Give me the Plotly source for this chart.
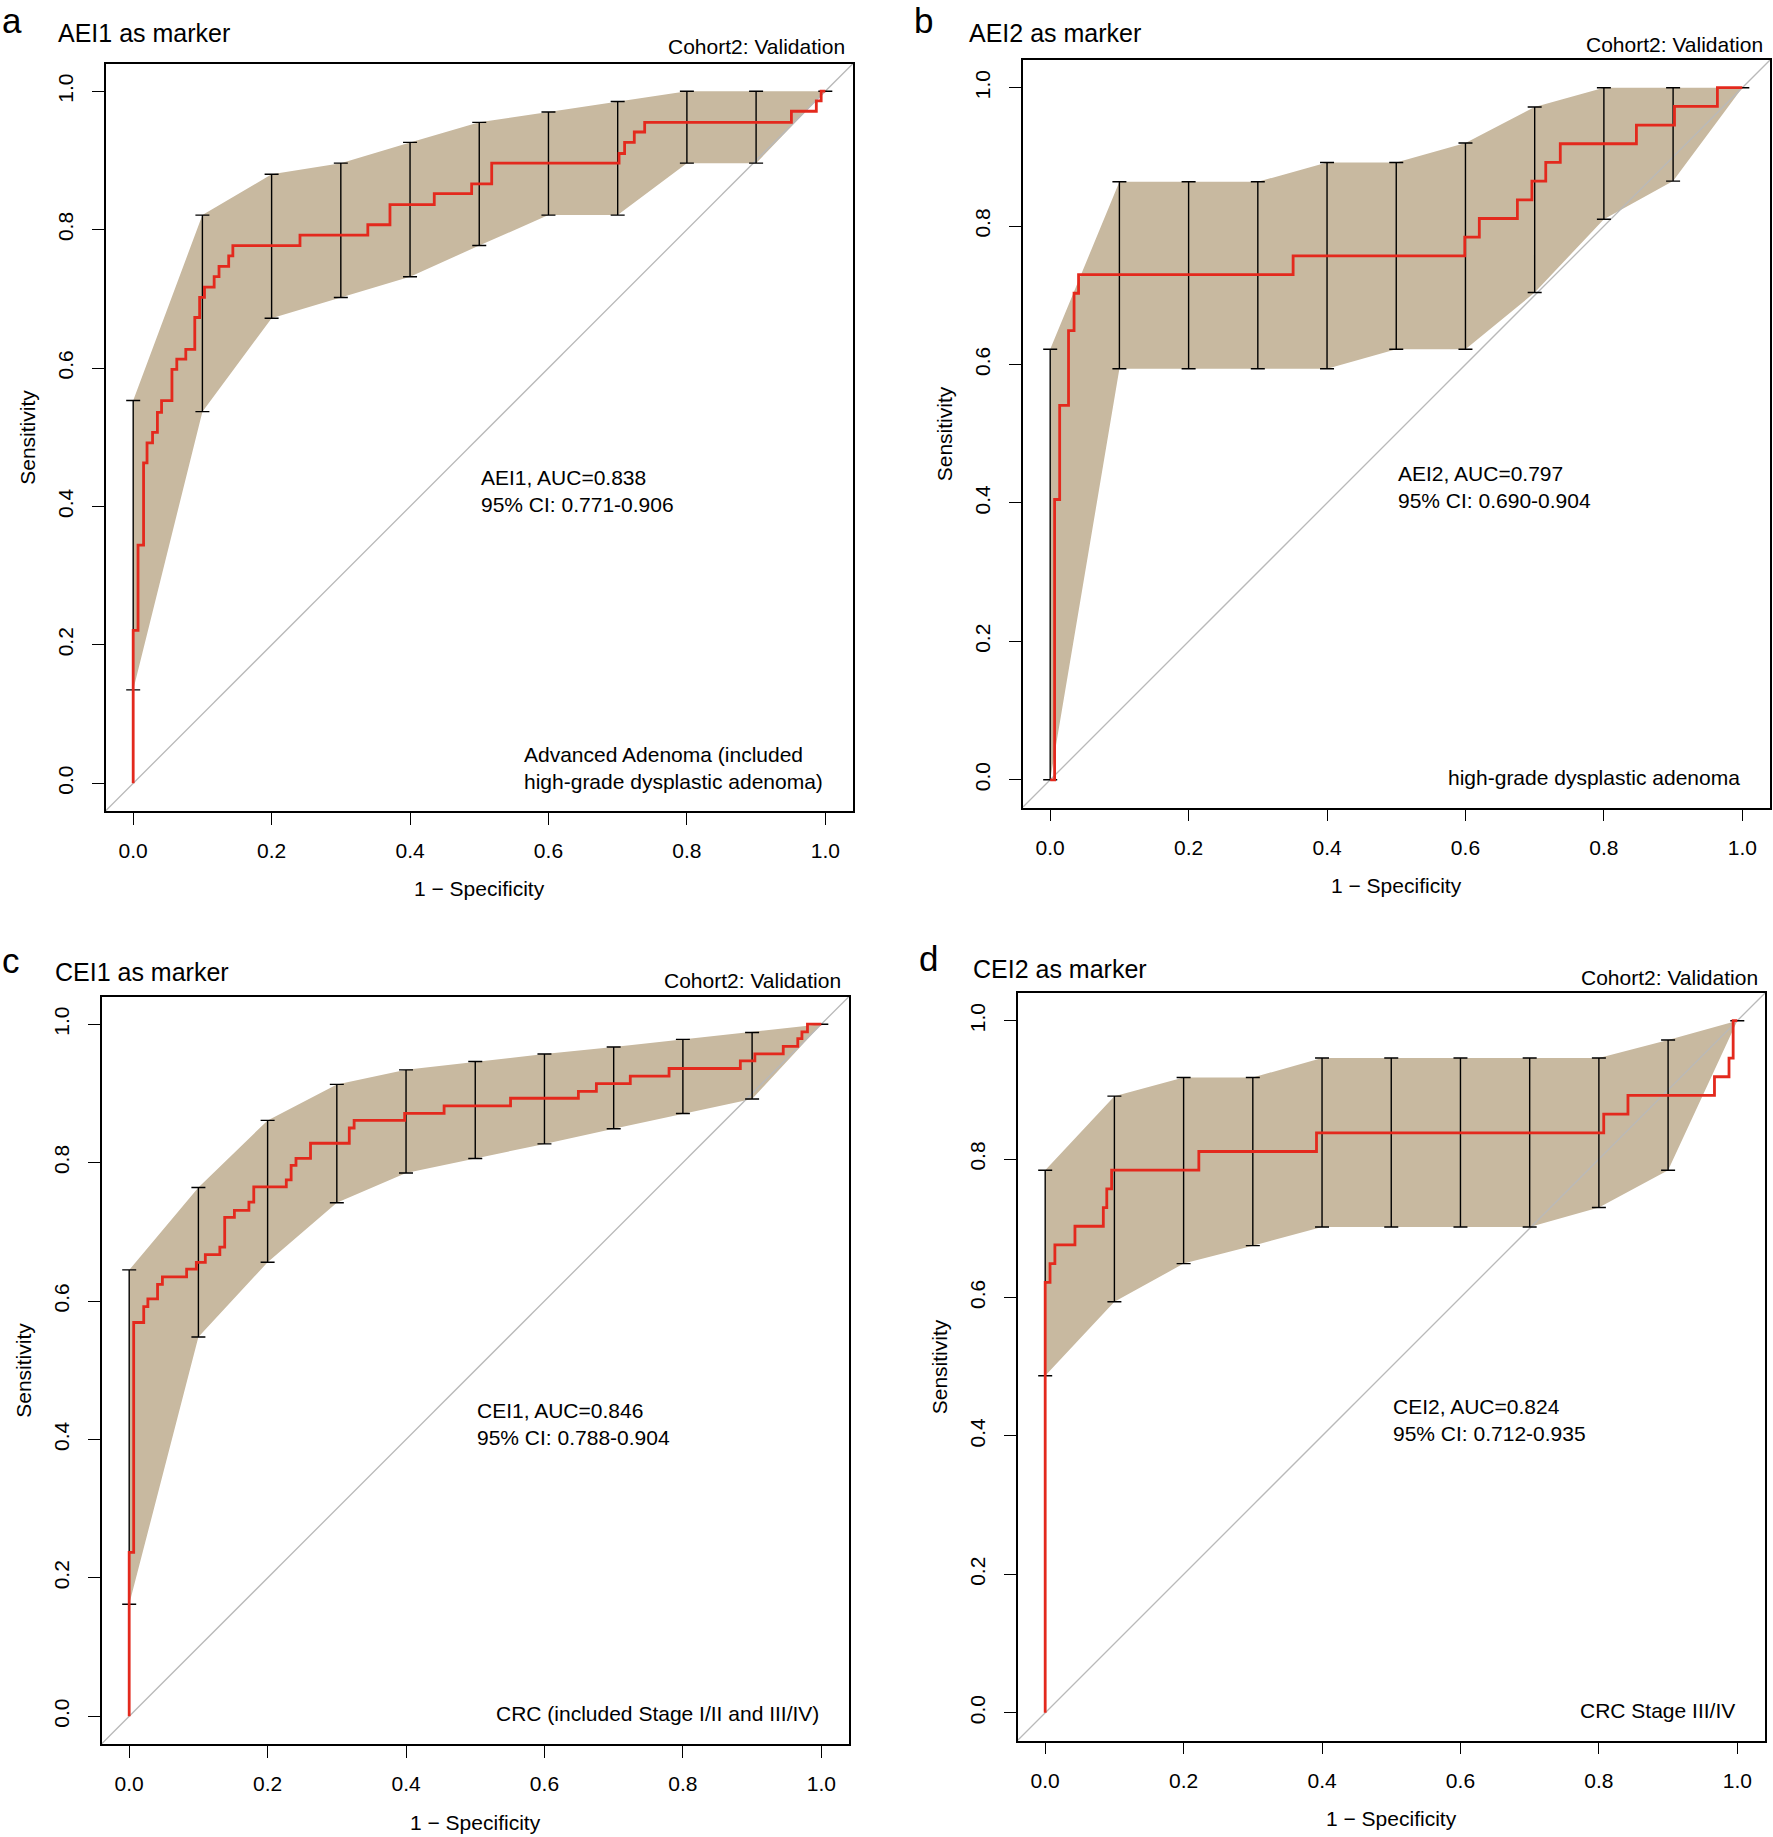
import plotly.graph_objects as go

W, H = 1773, 1837

# ---------------- data ----------------
ci_x = [0.0, 0.1, 0.2, 0.3, 0.4, 0.5, 0.6, 0.7, 0.8, 0.9, 1.0]
tick_vals = [0.0, 0.2, 0.4, 0.6, 0.8, 1.0]
tick_text = ["0.0", "0.2", "0.4", "0.6", "0.8", "1.0"]

# Panel a: AEI1
fpr_a = [0, 0, 0.007, 0.015, 0.020, 0.028, 0.035, 0.041, 0.056, 0.063, 0.076, 0.089, 0.096,
         0.103, 0.117, 0.124, 0.138, 0.144, 0.241, 0.339, 0.371, 0.435, 0.489, 0.518, 0.702,
         0.710, 0.724, 0.739, 0.951, 0.987, 0.994, 1.0]
tpr_a = [0, 0.221, 0.344, 0.463, 0.492, 0.507, 0.536, 0.553, 0.598, 0.613, 0.627, 0.673, 0.702,
         0.717, 0.732, 0.747, 0.762, 0.777, 0.792, 0.807, 0.836, 0.852, 0.866, 0.896, 0.910,
         0.926, 0.941, 0.955, 0.971, 0.986, 1.0, 1.0]
hi_a = [0.553, 0.821, 0.880, 0.896, 0.926, 0.955, 0.970, 0.985, 1.0, 1.0, 1.0]
lo_a = [0.135, 0.537, 0.672, 0.702, 0.732, 0.777, 0.821, 0.821, 0.896, 0.896, 1.0]

# Panel b: AEI2
fpr_b = [0, 0.0064, 0.0064, 0.0137, 0.0265, 0.0345, 0.041, 0.351, 0.599, 0.620, 0.675, 0.696,
         0.716, 0.737, 0.847, 0.902, 0.964, 1.0]
tpr_b = [0, 0, 0.405, 0.541, 0.649, 0.703, 0.730, 0.757, 0.784, 0.811, 0.838, 0.865,
         0.892, 0.919, 0.946, 0.973, 1.0, 1.0]
hi_b = [0.622, 0.864, 0.864, 0.864, 0.892, 0.892, 0.920, 0.972, 1.0, 1.0, 1.0]
lo_b = [0.0, 0.594, 0.594, 0.594, 0.594, 0.622, 0.622, 0.704, 0.810, 0.865, 1.0]

# Panel c: CEI1
fpr_c = [0, 0, 0.0065, 0.021, 0.027, 0.041, 0.048, 0.083, 0.097, 0.110, 0.131, 0.138, 0.152,
         0.173, 0.180, 0.227, 0.234, 0.241, 0.262, 0.318, 0.325, 0.398, 0.455, 0.551, 0.649,
         0.675, 0.724, 0.780, 0.883, 0.904, 0.945, 0.966, 0.972, 0.980, 1.0]
tpr_c = [0, 0.237, 0.569, 0.592, 0.603, 0.624, 0.635, 0.646, 0.656, 0.667, 0.678, 0.721, 0.731,
         0.743, 0.765, 0.775, 0.796, 0.806, 0.828, 0.850, 0.861, 0.871, 0.882, 0.893, 0.903,
         0.914, 0.925, 0.936, 0.947, 0.957, 0.968, 0.979, 0.989, 1.0, 1.0]
hi_c = [0.645, 0.764, 0.861, 0.913, 0.934, 0.946, 0.957, 0.967, 0.978, 0.988, 1.0]
lo_c = [0.162, 0.548, 0.656, 0.742, 0.785, 0.806, 0.827, 0.849, 0.871, 0.892, 1.0]

# Panel d: CEI2
fpr_d = [0, 0, 0.007, 0.014, 0.043, 0.084, 0.089, 0.096, 0.222, 0.392, 0.807, 0.842, 0.967,
         0.988, 0.994, 1.0]
tpr_d = [0, 0.622, 0.649, 0.676, 0.703, 0.730, 0.757, 0.784, 0.811, 0.838, 0.865, 0.892, 0.919,
         0.946, 1.0, 1.0]
hi_d = [0.784, 0.891, 0.918, 0.918, 0.946, 0.946, 0.946, 0.946, 0.946, 0.972, 1.0]
lo_d = [0.487, 0.594, 0.649, 0.675, 0.702, 0.702, 0.702, 0.702, 0.730, 0.784, 1.0]

letters = ["a", "b", "c", "d"]
titles = ["AEI1 as marker", "AEI2 as marker", "CEI1 as marker", "CEI2 as marker"]
auc_texts = ["AEI1, AUC=0.838<br>95% CI: 0.771-0.906",
             "AEI2, AUC=0.797<br>95% CI: 0.690-0.904",
             "CEI1, AUC=0.846<br>95% CI: 0.788-0.904",
             "CEI2, AUC=0.824<br>95% CI: 0.712-0.935"]
group_texts = [["Advanced Adenoma (included", "high-grade dysplastic adenoma)"],
               ["high-grade dysplastic adenoma"],
               ["CRC (included Stage I/II and III/IV)"],
               ["CRC Stage III/IV"]]
cohort_text = "Cohort2: Validation"

series = [(fpr_a, tpr_a, hi_a, lo_a), (fpr_b, tpr_b, hi_b, lo_b),
          (fpr_c, tpr_c, hi_c, lo_c), (fpr_d, tpr_d, hi_d, lo_d)]

# ---------------- layout geometry (pixels) ----------------
boxes = [  # left, right, top, bottom
    (105.5, 853.0, 63.5, 811.0),
    (1022.5, 1770.0, 60.0, 807.5),
    (101.5, 849.0, 996.5, 1744.0),
    (1017.5, 1765.0, 993.0, 1740.5),
]
letter_pos = [(0, 21), (912, 21), (0, 960), (917, 958)]
title_pos = [(56, 33), (967, 32.5), (53, 971.5), (971, 969)]
cohort_pos = [(847, 47), (1765, 44.5), (843, 980), (1760, 977)]

RNG = [-0.04, 1.04]
FONT = "Liberation Sans, Arial, Helvetica, sans-serif"
TAN = "#C8B9A0"
RED = "#E3291D"
GREY = "#B9B9B9"


def px(x):
    return x / W


def py(y):
    return 1 - y / H


fig = go.Figure()
annotations = []
layout_axes = {}

for i, (fpr, tpr, hi, lo) in enumerate(series):
    n = i + 1
    xa = "x" if n == 1 else f"x{n}"
    ya = "y" if n == 1 else f"y{n}"
    L, R, T, B = boxes[i]

    # CI shape
    fig.add_trace(go.Scatter(
        x=ci_x + ci_x[::-1], y=hi + lo[::-1], xaxis=xa, yaxis=ya,
        mode="lines", fill="toself", fillcolor=TAN, line=dict(width=0, color=TAN),
        hoverinfo="skip", showlegend=False))
    # diagonal
    fig.add_trace(go.Scatter(
        x=RNG, y=RNG, xaxis=xa, yaxis=ya, mode="lines",
        line=dict(color=GREY, width=1.3), hoverinfo="skip", showlegend=False))
    # CI bars
    mid = [(h + l) / 2 for h, l in zip(hi, lo)]
    half = [(h - l) / 2 for h, l in zip(hi, lo)]
    fig.add_trace(go.Scatter(
        x=ci_x, y=mid, xaxis=xa, yaxis=ya, mode="markers",
        marker=dict(size=1, color="rgba(0,0,0,0)"),
        error_y=dict(type="data", array=half, symmetric=True, color="black",
                     thickness=1.4, width=7),
        hoverinfo="skip", showlegend=False))
    # ROC curve
    fig.add_trace(go.Scatter(
        x=fpr, y=tpr, xaxis=xa, yaxis=ya, mode="lines",
        line=dict(color=RED, width=2.8, shape="hv"),
        hoverinfo="skip", showlegend=False))

    axis_common = dict(
        range=RNG, tickvals=tick_vals, ticktext=tick_text, ticks="outside",
        ticklen=12, tickwidth=1.4, tickcolor="black", showline=True,
        linecolor="black", linewidth=1.6, mirror=True, showgrid=False,
        zeroline=False, tickfont=dict(size=21, color="black", family=FONT),
    )
    xkey = "xaxis" if n == 1 else f"xaxis{n}"
    ykey = "yaxis" if n == 1 else f"yaxis{n}"
    layout_axes[xkey] = dict(axis_common, domain=[px(L), px(R)], anchor=ya,
                             ticklabelstandoff=8)
    layout_axes[ykey] = dict(axis_common, domain=[py(B), py(T)], anchor=xa,
                             tickangle=-90, ticklabelstandoff=10)

    # outer texts
    lx, ly = letter_pos[i]
    annotations.append(dict(text=letters[i], x=px(lx), y=py(ly), xref="paper", yref="paper",
                            xanchor="left", yanchor="middle", showarrow=False,
                            font=dict(size=35, color="black", family=FONT)))
    tx, ty = title_pos[i]
    annotations.append(dict(text=titles[i], x=px(tx), y=py(ty), xref="paper", yref="paper",
                            xanchor="left", yanchor="middle", showarrow=False,
                            font=dict(size=25, color="black", family=FONT)))
    cx, cy = cohort_pos[i]
    annotations.append(dict(text=cohort_text, x=px(cx), y=py(cy), xref="paper", yref="paper",
                            xanchor="right", yanchor="middle", showarrow=False,
                            font=dict(size=21, color="black", family=FONT)))
    annotations.append(dict(text="1 \u2212 Specificity", x=px((L + R) / 2), y=py(B + 78),
                            xref="paper", yref="paper", xanchor="center", yanchor="middle",
                            showarrow=False, font=dict(size=21, color="black", family=FONT)))
    annotations.append(dict(text="Sensitivity", x=px(L - 78), y=py((T + B) / 2),
                            xref="paper", yref="paper", xanchor="center", yanchor="middle",
                            textangle=-90, showarrow=False,
                            font=dict(size=21, color="black", family=FONT)))
    # in-plot texts
    annotations.append(dict(text=auc_texts[i], x=0.5, y=0.423, xref=xa, yref=ya,
                            xanchor="left", yanchor="middle", align="left", showarrow=False,
                            font=dict(size=21, color="black", family=FONT)))
    glines = group_texts[i]
    gcenter = 0.004 + (len(glines) - 1) * 0.0185
    annotations.append(dict(text="<br>".join(glines), x=1.0, y=gcenter, xref=xa, yref=ya,
                            xanchor="right", yanchor="middle", align="left", showarrow=False,
                            font=dict(size=21, color="black", family=FONT)))

fig.update_layout(
    width=W, height=H, margin=dict(l=0, r=0, t=0, b=0),
    paper_bgcolor="white", plot_bgcolor="white",
    font=dict(family=FONT, color="black", size=21),
    showlegend=False, annotations=annotations, **layout_axes,
)

fig.write_html(
    "out.html",
    config={"displayModeBar": False},
    post_script="document.body.style.margin='0';document.body.style.overflow='hidden';",
)
